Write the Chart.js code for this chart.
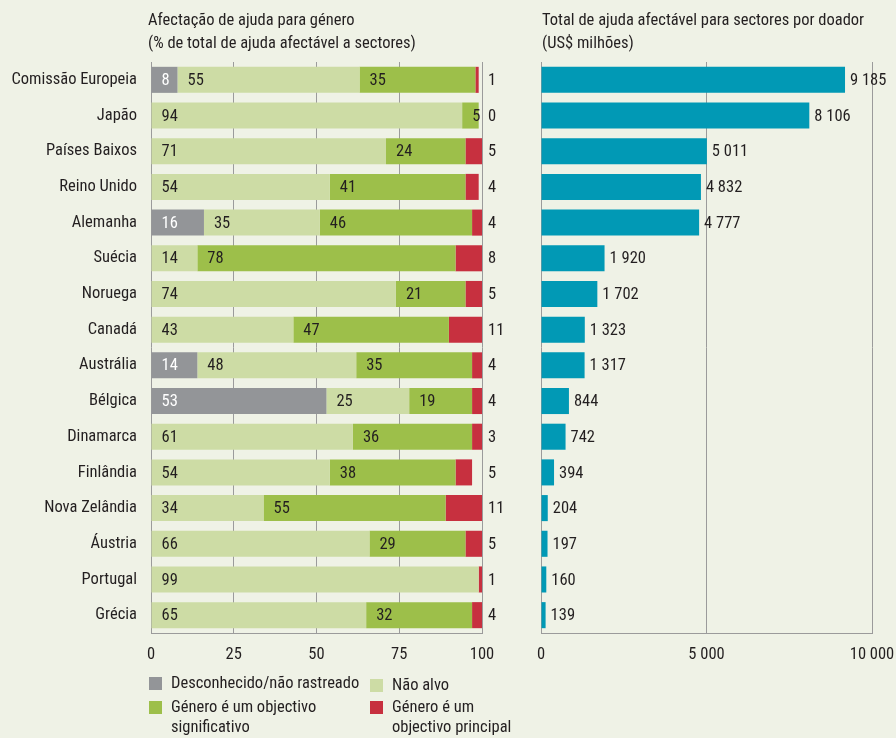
<!DOCTYPE html>
<html>
<head>
<meta charset="utf-8">
<script src="https://cdn.jsdelivr.net/npm/chart.js@4"></script>
<style>
  body { margin: 0; background: #eff2e6; color: #231f20; font-family: "Roboto Condensed", "Liberation Sans", sans-serif; }
  #page { position: relative; width: 896px; height: 738px; overflow: hidden; }
  .wrap { position: absolute; top: 0; height: 738px; }
  .title { position: absolute; top: 8px; font-size: 16.5px; line-height: 23px; }
  .key { position: absolute; font-size: 16.5px; line-height: 20px; }
  .key span { position: absolute; left: -22px; top: 4px; width: 13px; height: 13px; }
</style>
</head>
<body>
<div id="page">
  <div class="wrap" style="left:0;width:520px"><canvas id="shareChart"></canvas></div>
  <div class="wrap" style="left:520px;width:376px"><canvas id="totalChart"></canvas></div>

  <div class="title" style="left:148px">Afectação de ajuda para género<br>(% de total de ajuda afectável a sectores)</div>
  <div class="title" style="left:542px">Total de ajuda afectável para sectores por doador<br>(US$ milhões)</div>

  <div class="key" style="left:171px;top:673px"><span style="background:#939598"></span>Desconhecido/não rastreado</div>
  <div class="key" style="left:392px;top:675px"><span style="background:#cddca5"></span>Não alvo</div>
  <div class="key" style="left:171px;top:697px"><span style="background:#9dbf4a"></span>Género é um objectivo<br>significativo</div>
  <div class="key" style="left:392px;top:697px"><span style="background:#c7303f"></span>Género é um<br>objectivo principal</div>
</div>

<script>
const donors = ['Comissão Europeia', 'Japão', 'Países Baixos', 'Reino Unido', 'Alemanha', 'Suécia', 'Noruega', 'Canadá',
  'Austrália', 'Bélgica', 'Dinamarca', 'Finlândia', 'Nova Zelândia', 'Áustria', 'Portugal', 'Grécia'];
const unknown     = [8, 0, 0, 0, 16, 0, 0, 0, 14, 53, 0, 0, 0, 0, 0, 0];
const notTargeted = [55, 94, 71, 54, 35, 14, 74, 43, 48, 25, 61, 54, 34, 66, 99, 65];
const significant = [35, 5, 24, 41, 46, 78, 21, 47, 35, 19, 36, 38, 55, 29, 0, 32];
const principal   = [1, 0, 5, 4, 4, 8, 5, 11, 4, 4, 3, 5, 11, 5, 1, 4];
const totalAid    = [9185, 8106, 5011, 4832, 4777, 1920, 1702, 1323, 1317, 844, 742, 394, 204, 197, 160, 139];
const pctTicks = [0, 25, 50, 75, 100];
const aidTicks = [0, 5000, 10000];

const FONT = '"Roboto Condensed", "Liberation Sans", sans-serif';
const INK = '#231f20';
const GRID = '#9b9b9b';

function fmt(v) {
  return String(v).replace(/\B(?=(\d{3})+(?!\d))/g, ' ');
}

// writes the numbers on or next to each bar segment
const barValues = {
  id: 'barValues',
  afterDatasetsDraw(chart) {
    const ctx = chart.ctx;
    const area = chart.chartArea;
    ctx.save();
    ctx.font = '16.5px ' + FONT;
    ctx.textBaseline = 'middle';
    ctx.textAlign = 'left';
    chart.data.datasets.forEach((ds, i) => {
      chart.getDatasetMeta(i).data.forEach((bar, j) => {
        const v = ds.data[j];
        ctx.fillStyle = ds.labelColor || INK;
        if (ds.labelMode === 'outside') {
          ctx.fillText(fmt(v), area.right + 6, bar.y + 1);
        } else if (ds.labelMode === 'after') {
          ctx.fillText(fmt(v), bar.x + 5, bar.y + 1);
        } else if (v) {
          ctx.fillText(fmt(v), bar.base + 10, bar.y + 1);
        }
      });
    });
    ctx.restore();
  }
};

function xAxis(min, max, ticks, cb) {
  return {
    stacked: true, min: min, max: max,
    afterBuildTicks: axis => { axis.ticks = ticks.map(v => ({ value: v })); },
    afterFit: axis => { axis.height = 105; axis.paddingLeft = 0; axis.paddingRight = 0; },
    grid: { color: GRID, drawTicks: false },
    border: { color: GRID },
    ticks: { padding: 12, color: INK, font: { family: FONT, size: 16.5 }, callback: cb, maxRotation: 0 }
  };
}

const bar = { barPercentage: 0.73, categoryPercentage: 1, borderWidth: 0 };

new Chart(document.getElementById('shareChart'), {
  type: 'bar',
  data: {
    labels: donors,
    datasets: [
      { ...bar, label: 'Desconhecido/não rastreado', data: unknown, backgroundColor: '#939598', labelColor: '#ffffff' },
      { ...bar, label: 'Não alvo', data: notTargeted, backgroundColor: '#cddca5' },
      { ...bar, label: 'Género é um objectivo significativo', data: significant, backgroundColor: '#9dbf4a' },
      { ...bar, label: 'Género é um objectivo principal', data: principal, backgroundColor: '#c7303f', labelMode: 'outside' }
    ]
  },
  options: {
    indexAxis: 'y',
    responsive: true,
    maintainAspectRatio: false,
    animation: false,
    layout: { padding: { top: 62, right: 38, left: 0, bottom: 0 } },
    plugins: { legend: { display: false }, tooltip: { enabled: false } },
    scales: {
      x: xAxis(0, 100, pctTicks, v => v),
      y: {
        stacked: true,
        afterFit: axis => { axis.width = 151; },
        grid: { display: false, drawTicks: false },
        border: { display: false },
        ticks: { padding: 14, color: INK, font: { family: FONT, size: 16.5 } }
      }
    }
  },
  plugins: [barValues]
});

new Chart(document.getElementById('totalChart'), {
  type: 'bar',
  data: {
    labels: donors,
    datasets: [
      { ...bar, label: 'Total', data: totalAid, backgroundColor: '#0199b5', labelMode: 'after' }
    ]
  },
  options: {
    indexAxis: 'y',
    responsive: true,
    maintainAspectRatio: false,
    animation: false,
    layout: { padding: { top: 62, right: 24, left: 21, bottom: 0 } },
    plugins: { legend: { display: false }, tooltip: { enabled: false } },
    scales: {
      x: xAxis(0, 10000, aidTicks, v => fmt(v)),
      y: { stacked: true, display: false }
    }
  },
  plugins: [barValues]
});
</script>
</body>
</html>
